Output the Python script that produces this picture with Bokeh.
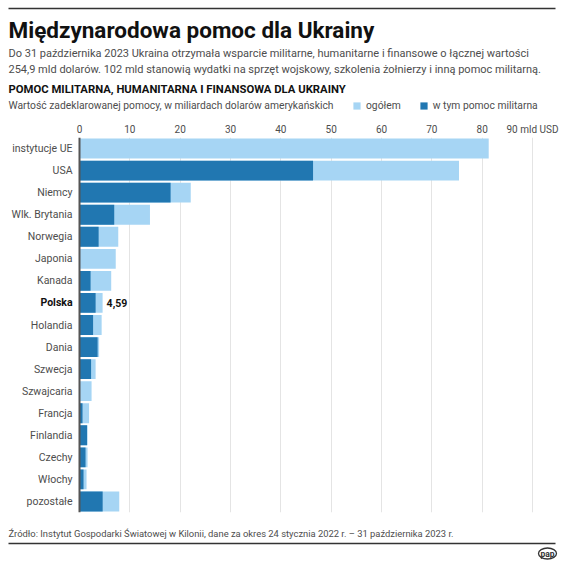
from bokeh.plotting import figure
from bokeh.layouts import column
from bokeh.models import (ColumnDataSource, FactorRange, Range1d, Span,
                          FixedTicker, Legend, LegendItem)
from bokeh.core.properties import value
from bokeh.embed import file_html
from bokeh.resources import INLINE

countries = ["instytucje UE", "USA", "Niemcy", "Wlk. Brytania", "Norwegia", "Japonia",
             "Kanada", "Polska", "Holandia", "Dania", "Szwecja", "Szwajcaria",
             "Francja", "Finlandia", "Czechy", "Włochy", "pozostałe"]
total = [81.3, 75.4, 22.1, 14.0, 7.7, 7.2, 6.3, 4.59, 4.4, 3.9, 3.2, 2.4,
         1.9, 1.6, 1.6, 1.4, 7.9]
military = [0.0, 46.4, 18.1, 6.9, 3.8, 0.0, 2.2, 3.2, 2.7, 3.6, 2.3, 0.0,
            0.6, 1.5, 1.2, 0.8, 4.6]
ticks = [0, 10, 20, 30, 40, 50, 60, 70, 80, 90]
tick_labels = ["0", "10", "20", "30", "40", "50", "60", "70", "80", "90 mld USD"]
highlight = "Polska"
legend_labels = ["ogółem", "w tym pomoc militarna"]

title = "Międzynarodowa pomoc dla Ukrainy"
desc1 = "Do 31 października 2023 Ukraina otrzymała wsparcie militarne, humanitarne i finansowe o łącznej wartości"
desc2 = "254,9 mld dolarów. 102 mld stanowią wydatki na sprzęt wojskowy, szkolenia żołnierzy i inną pomoc militarną."
subtitle = "POMOC MILITARNA, HUMANITARNA I FINANSOWA DLA UKRAINY"
unit_note = "Wartość zadeklarowanej pomocy, w miliardach dolarów amerykańskich"
source_note = "Źródło: Instytut Gospodarki Światowej w Kilonii, dane za okres 24 stycznia 2022 r. – 31 października 2023 r."

FONT = "Roboto"
LIGHT = "#a6d5f4"
DARK = "#2177b1"
GRAY = "#4d4d4d"
INK = "#111111"

W = 562
HH, MH, FH = 120, 400, 42
X0_PX, X90_PX = 79, 532        # pixel positions of 0 and 90
XMAX = 90
LEFT_MARGIN = 8


def blank(h):
    f = figure(width=W, height=h, output_backend="svg", toolbar_location=None,
               x_range=Range1d(0, W), y_range=Range1d(h, 0),
               min_border=0, min_border_left=0, min_border_right=0,
               min_border_top=0, min_border_bottom=0)
    f.axis.visible = False
    f.grid.visible = False
    f.outline_line_color = None
    return f


def txt(f, x, y, s, size, color=GRAY, style="normal", align="left"):
    f.text(x=[x], y=[y], text=[s], text_font=value(FONT), text_font_size=size,
           text_color=color, text_font_style=style, text_baseline="middle",
           text_align=align)


# ---------- header ----------
hdr = blank(HH)
hdr.line(x=[LEFT_MARGIN, W - 7], y=[8, 8], line_color="#333333", line_width=1.6)
txt(hdr, LEFT_MARGIN, 29, title, "22.5px", INK, "bold")
txt(hdr, LEFT_MARGIN, 53, desc1, "11px")
txt(hdr, LEFT_MARGIN, 69, desc2, "11px")
txt(hdr, LEFT_MARGIN, 89, subtitle, "11.3px", INK, "bold")
txt(hdr, LEFT_MARGIN, 105, unit_note, "10.3px")
lr1 = hdr.rect(x=[-100], y=[-100], width=1, height=1, color=LIGHT, line_color=None)
lr2 = hdr.rect(x=[-100], y=[-100], width=1, height=1, color=DARK, line_color=None)
hdr.add_layout(Legend(items=[LegendItem(label=legend_labels[0], renderers=[lr1]),
                             LegendItem(label=legend_labels[1], renderers=[lr2])],
                      orientation="horizontal", location=(352, HH - 112),
                      glyph_width=9, glyph_height=9, label_text_font=FONT,
                      label_text_font_size="10.3px", label_text_color=GRAY,
                      spacing=18, padding=0, margin=0, label_standoff=5,
                      label_height=12,
                      background_fill_alpha=0, border_line_color=None))

# ---------- main chart ----------
ppu = (X90_PX - X0_PX) / XMAX
src = ColumnDataSource(dict(country=countries, total=total, military=military,
                            style=["bold" if c == highlight else "normal" for c in countries],
                            color=[INK if c == highlight else GRAY for c in countries]))

p = figure(width=W, height=MH, output_backend="svg", toolbar_location=None,
           y_range=FactorRange(*reversed(countries)),
           x_range=Range1d(-X0_PX / ppu, (W - X0_PX) / ppu),
           min_border_left=0, min_border_right=0,
           min_border_top=17, min_border_bottom=8,
           x_axis_location="above")
p.outline_line_color = None

p.hbar(y="country", right="total", left=0, height=0.9, source=src,
       color=LIGHT, line_color=None)
p.hbar(y="country", right="military", left=0, height=0.9, source=src,
       color=DARK, line_color=None)

p.xaxis.ticker = FixedTicker(ticks=ticks)
p.xaxis.major_label_overrides = {t: l for t, l in zip(ticks, tick_labels)}
p.xaxis.axis_line_color = None
p.xaxis.major_tick_line_color = None
p.xaxis.minor_tick_line_color = None
p.xaxis.major_tick_out = 0
p.xaxis.major_tick_in = 0
p.xaxis.major_label_standoff = 3
p.xaxis.major_label_text_font = FONT
p.xaxis.major_label_text_font_size = "10px"
p.xaxis.major_label_text_color = GRAY
p.yaxis.visible = False
p.xgrid.ticker = FixedTicker(ticks=ticks[1:])
p.xgrid.grid_line_color = "#e4e4e4"
p.ygrid.grid_line_color = None

p.add_layout(Span(location=0, dimension="height", line_color="#555555", line_width=2))

p.text(x=0, y="country", text="country", x_offset=-7, source=src,
       text_align="right", text_baseline="middle", text_font=value(FONT),
       text_font_size="10.5px", text_color="color", text_font_style="style")

hsrc = ColumnDataSource(dict(
    v=[t for c, t in zip(countries, total) if c == highlight],
    country=[c for c in countries if c == highlight],
    txt=[f"{t:.2f}".replace(".", ",") for c, t in zip(countries, total) if c == highlight]))
p.text(x="v", y="country", text="txt", x_offset=4, source=hsrc,
       text_align="left", text_baseline="middle", text_font=value(FONT),
       text_font_size="10.5px", text_color=INK, text_font_style="bold")

# ---------- footer ----------
ftr = blank(FH)
txt(ftr, LEFT_MARGIN, 13, source_note, "9.4px")
ftr.line(x=[LEFT_MARGIN, W - 7], y=[23, 23], line_color="#333333", line_width=1.6)
txt(ftr, 547, 33, "pap", "8.5px", "#333333", "bold", "center")
ftr.ellipse(x=[547], y=[33], width=18, height=11, fill_color=None,
            line_color="#333333", line_width=1.3)

layout = column(hdr, p, ftr, spacing=0)
open("out.html", "w").write(file_html(layout, INLINE))
